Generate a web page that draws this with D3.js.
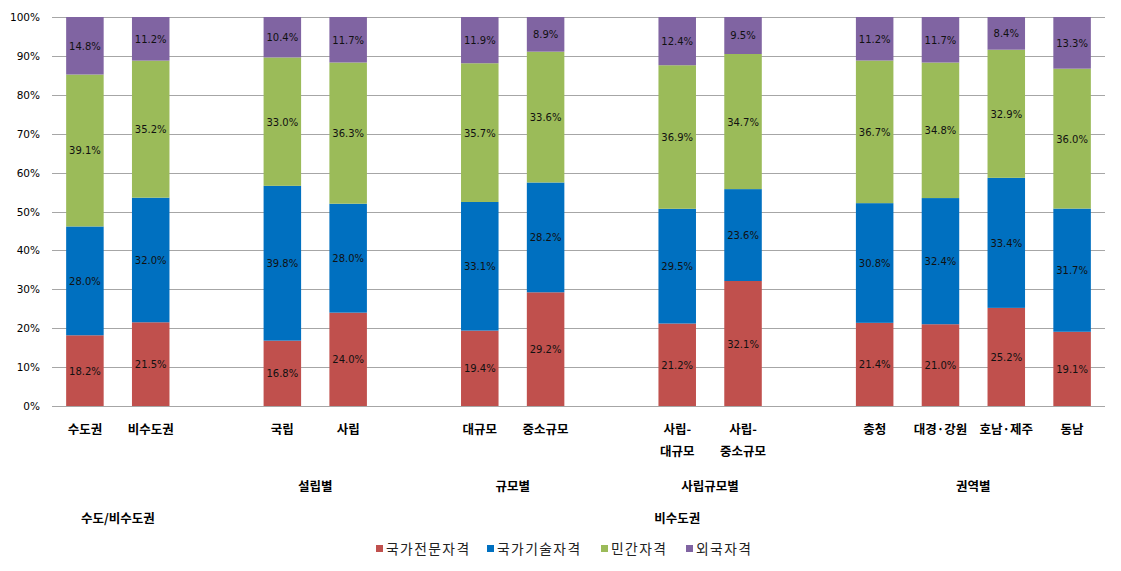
<!DOCTYPE html>
<html>
<head>
<meta charset="utf-8">
<script src="https://cdn.jsdelivr.net/npm/d3@7"></script>
<style>
  body { margin: 0; background: #fff; }
  svg { display: block; }
</style>
</head>
<body>
<div id="chart"></div>
<script>
// ======================= //
// DATA
// ======================= //

// categories (lines split by "\n"), gaps are kept as blank slots
var categories = ["수도권", "비수도권", "gap1", "국립", "사립", "gap2", "대규모", "중소규모", "gap3",
                  "사립-\n대규모", "사립-\n중소규모", "gap4", "충청", "대경·강원", "호남·제주", "동남"]

var series = ["국가전문자격", "국가기술자격", "민간자격", "외국자격"]
var colors = ["#C0504D", "#0070C0", "#9BBB59", "#8064A2"]

var vNational = [18.2, 21.5, 16.8, 24.0, 19.4, 29.2, 21.2, 32.1, 21.4, 21.0, 25.2, 19.1]
var vTechnical = [28.0, 32.0, 39.8, 28.0, 33.1, 28.2, 29.5, 23.6, 30.8, 32.4, 33.4, 31.7]
var vPrivate = [39.1, 35.2, 33.0, 36.3, 35.7, 33.6, 36.9, 34.7, 36.7, 34.8, 32.9, 36.0]
var vForeign = [14.8, 11.2, 10.4, 11.7, 11.9, 8.9, 12.4, 9.5, 11.2, 11.7, 8.4, 13.3]

var yTicks = [0, 10, 20, 30, 40, 50, 60, 70, 80, 90, 100]

// second and third level of the category axis
var groups1 = [
  {label: "설립별", from: "국립", to: "사립"},
  {label: "규모별", from: "대규모", to: "중소규모"},
  {label: "사립규모별", from: "사립-\n대규모", to: "사립-\n중소규모"},
  {label: "권역별", from: "충청", to: "동남"}
]
var groups2 = [
  {label: "수도/비수도권", from: "수도권", to: "비수도권"},
  {label: "비수도권", from: "국립", to: "동남"}
]

// build rows
var realCats = categories.filter(function(c){ return c.indexOf("gap") != 0 })
var rows = realCats.map(function(c, i){
  var vals = [vNational[i], vTechnical[i], vPrivate[i], vForeign[i]]
  var total = d3.sum(vals)
  var r = {cat: c}
  series.forEach(function(s, j){ r[s] = vals[j] / total * 100; r[s + "_raw"] = vals[j] })
  return r
})

// ======================= //
// SVG
// ======================= //
var W = 1121, H = 571
var margin = {top: 17, left: 52, right: 16}
var plotBottom = 406

var svg = d3.select("#chart").append("svg")
  .attr("width", W).attr("height", H)

var x = d3.scaleBand()
  .domain(categories)
  .range([margin.left, W - margin.right])
  .paddingInner(0.43)
  .paddingOuter(0.215)

var y = d3.scaleLinear()
  .domain([0, 100])
  .range([plotBottom, margin.top])

// gridlines
svg.append("g").selectAll("line")
  .data(yTicks)
  .enter().append("line")
    .attr("x1", margin.left)
    .attr("x2", W - margin.right)
    .attr("y1", function(d){ return Math.round(y(d)) + 0.5 })
    .attr("y2", function(d){ return Math.round(y(d)) + 0.5 })
    .attr("stroke", "#A6A6A6")
    .attr("stroke-width", 1)

// y labels
svg.append("g").selectAll("text")
  .data(yTicks)
  .enter().append("text")
    .attr("x", margin.left - 12)
    .attr("y", function(d){ return y(d) + 4 })
    .attr("text-anchor", "end")
    .style("font-family", "DejaVu Sans")
    .style("font-size", "10.5px")
    .style("fill", "#000")
    .text(function(d){ return d + "%" })

// ======================= //
// STACKED BARS
// ======================= //
var stacked = d3.stack().keys(series)(rows)

var layers = svg.append("g").selectAll("g")
  .data(stacked)
  .enter().append("g")
    .attr("fill", function(d, i){ return colors[i] })

layers.selectAll("rect")
  .data(function(d){ return d })
  .enter().append("rect")
    .attr("x", function(d){ return x(d.data.cat) })
    .attr("width", x.bandwidth())
    .attr("y", function(d){ return y(d[1]) })
    .attr("height", function(d){ return y(d[0]) - y(d[1]) })

// value labels
layers.each(function(layer){
  d3.select(this).selectAll("text")
    .data(layer)
    .enter().append("text")
      .attr("x", function(d){ return x(d.data.cat) + x.bandwidth() / 2 })
      .attr("y", function(d){ return (y(d[0]) + y(d[1])) / 2 + 4 })
      .attr("text-anchor", "middle")
      .style("font-family", "DejaVu Sans")
      .style("font-size", "10px")
      .style("fill", "#111")
      .text(function(d){ return d.data[layer.key + "_raw"].toFixed(1) + "%" })
})

// ======================= //
// CATEGORY LABELS
// ======================= //
var catLabels = svg.append("g").selectAll("text")
  .data(realCats)
  .enter().append("text")
    .attr("text-anchor", "middle")
    .style("font-family", "'Noto Sans CJK KR'")
    .style("font-weight", "bold")
    .style("font-size", "12.5px")
    .style("fill", "#000")

catLabels.selectAll("tspan")
  .data(function(d){ return d.split("\n").map(function(t){ return {t: t, c: d} }) })
  .enter().append("tspan")
    .attr("x", function(d){ return x(d.c) + x.bandwidth() / 2 })
    .attr("y", function(d, i){ return 434 + i * 22 })
    .text(function(d){ return d.t })

function groupCenter(g){
  return (x(g.from) + x(g.to) + x.bandwidth()) / 2
}

svg.append("g").selectAll("text")
  .data(groups1)
  .enter().append("text")
    .attr("x", groupCenter)
    .attr("y", 491)
    .attr("text-anchor", "middle")
    .style("font-family", "'Noto Sans CJK KR'")
    .style("font-weight", "bold")
    .style("font-size", "12.5px")
    .text(function(d){ return d.label })

svg.append("g").selectAll("text")
  .data(groups2)
  .enter().append("text")
    .attr("x", groupCenter)
    .attr("y", 523)
    .attr("text-anchor", "middle")
    .style("font-family", "'Noto Sans CJK KR'")
    .style("font-weight", "bold")
    .style("font-size", "12.5px")
    .text(function(d){ return d.label })

// ======================= //
// LEGEND
// ======================= //
var legendX = [376, 487, 601, 686]
var legend = svg.append("g").selectAll("g")
  .data(series)
  .enter().append("g")
    .attr("transform", function(d, i){ return "translate(" + legendX[i] + ",549)" })

legend.append("rect")
  .attr("x", 0).attr("y", -4)
  .attr("width", 7).attr("height", 7)
  .attr("fill", function(d, i){ return colors[i] })

legend.append("text")
  .attr("x", 10)
  .attr("y", 5)
  .style("font-family", "'Noto Sans CJK KR'")
  .style("font-size", "13.8px")
  .style("letter-spacing", "1.4px")
  .style("fill", "#222")
  .text(function(d){ return d })
</script>
</body>
</html>
